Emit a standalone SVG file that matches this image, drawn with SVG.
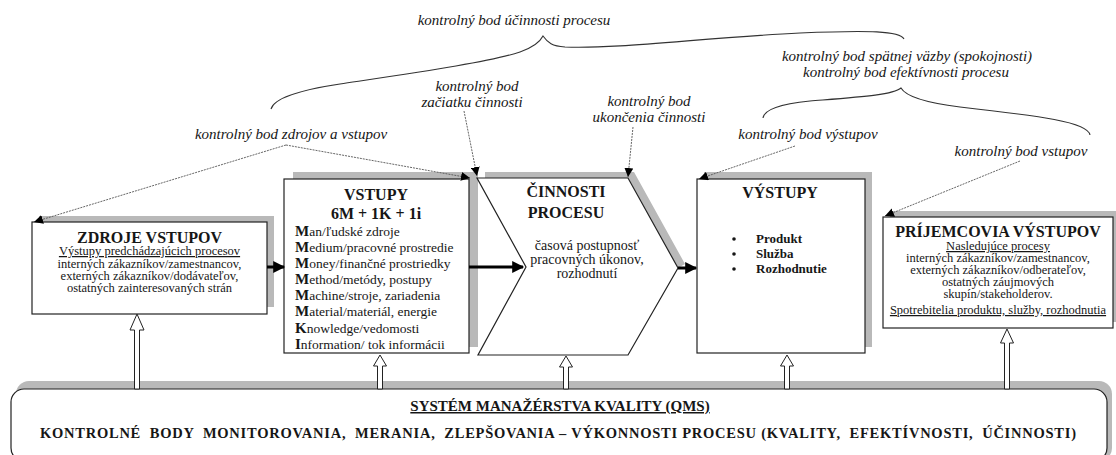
<svg xmlns="http://www.w3.org/2000/svg" width="1116" height="455" viewBox="0 0 1116 455" font-family="'Liberation Serif', 'DejaVu Serif', 'Times New Roman', serif">
  <style>
    text { font-family: "Liberation Serif", "DejaVu Serif", "Times New Roman", serif; fill: #161616; }
    .lbl { font-style: italic; font-size: 15px; }
    .ttl { font-weight: bold; font-size: 16px; }
    .body { font-size: 12.5px; }
    .list { font-size: 13.5px; }
    .ini { font-weight: bold; font-size: 15px; }
    .box { fill: #ffffff; stroke: #222222; stroke-width: 1.2; }
    .shadow { fill: #b9b9b9; stroke: none; }
    .leader { fill: none; stroke: #555555; stroke-width: 0.9; stroke-dasharray: 2 1; }
    .brace { fill: none; stroke: #333333; stroke-width: 1.1; }
    .flow { fill: none; stroke: #000000; stroke-width: 3; }
    .up { fill: #ffffff; stroke: #222222; stroke-width: 1; }
  </style>
  <defs>
    <marker id="tip" viewBox="0 0 10 10" refX="10" refY="5" markerWidth="9" markerHeight="9" markerUnits="userSpaceOnUse" orient="auto">
      <path d="M0,0 L10,5 L0,10 Z" fill="#000000"/>
    </marker>
    <marker id="flowhead" viewBox="0 0 10 10" refX="9" refY="5" markerWidth="5" markerHeight="4" orient="auto">
      <path d="M0,0 L10,5 L0,10 Z" fill="#000000"/>
    </marker>
  </defs>

  <!-- curly braces and italic control-point labels -->
  <g id="labels">
    <path class="brace" d="M271,109 C274,98 300,90 340,84 C420,72 490,62 520,52 C534,47 540,42 543,36 C548,43 552,46 565,47 C620,49 700,38 800,33 C870,30 900,31 904,39"/>
    <path class="brace" d="M763,118 C764,110 780,104 810,101 C860,97 893,95 901,88 C905,95 920,102 960,107 C1040,116 1088,122 1090,135"/>
    <text class="lbl" x="514" y="25" text-anchor="middle">kontrolný bod účinnosti procesu</text>
    <text class="lbl" x="907" y="61" text-anchor="middle">kontrolný bod spätnej väzby (spokojnosti)</text>
    <text class="lbl" x="906" y="77" text-anchor="middle">kontrolný bod efektívnosti procesu</text>
    <text class="lbl" x="477" y="91" text-anchor="middle">kontrolný bod</text>
    <text class="lbl" x="472" y="107" text-anchor="middle">začiatku činnosti</text>
    <text class="lbl" x="649" y="106" text-anchor="middle">kontrolný bod</text>
    <text class="lbl" x="649" y="122" text-anchor="middle">ukončenia činnosti</text>
    <text class="lbl" x="808" y="139" text-anchor="middle">kontrolný bod výstupov</text>
    <text class="lbl" x="1021" y="156" text-anchor="middle">kontrolný bod vstupov</text>
    <text class="lbl" x="291" y="139" text-anchor="middle">kontrolný bod zdrojov a vstupov</text>
  </g>

  <!-- quality management system base -->
  <g id="qms">
    <rect class="shadow" x="16" y="381" width="1096" height="80" rx="13"/>
    <rect class="box" x="11" y="389" width="1096" height="72" rx="13"/>
    <text x="560" y="411" text-anchor="middle" font-weight="bold" font-size="15" text-decoration="underline">SYSTÉM MANAŽÉRSTVA KVALITY (QMS)</text>
    <text x="40" y="438" font-weight="bold" font-size="14.5" textLength="1036" lengthAdjust="spacing" style="white-space:pre">KONTROLNÉ  BODY  MONITOROVANIA,  MERANIA,  ZLEPŠOVANIA – VÝKONNOSTI PROCESU (KVALITY,  EFEKTÍVNOSTI,  ÚČINNOSTI)</text>
  </g>

  <g id="zdroje">
    <rect class="shadow" x="39" y="216" width="235" height="91"/>
    <rect class="box" x="32" y="222" width="235" height="92"/>
    <text class="ttl" x="149.5" y="243" text-anchor="middle">ZDROJE VSTUPOV</text>
    <text class="body" x="149.5" y="255" text-anchor="middle" text-decoration="underline">Výstupy predchádzajúcich  procesov</text>
    <text class="body" x="149.5" y="268" text-anchor="middle">interných zákazníkov/zamestnancov,</text>
    <text class="body" x="149.5" y="280" text-anchor="middle">externých zákazníkov/dodávateľov,</text>
    <text class="body" x="149.5" y="292" text-anchor="middle">ostatných zainteresovaných  strán</text>
  </g>

  <g id="vstupy">
    <rect class="shadow" x="293" y="172" width="185" height="175"/>
    <rect class="box" x="284" y="179" width="185" height="174"/>
    <text class="ttl" x="376" y="200" text-anchor="middle" font-size="17">VSTUPY</text>
    <text class="ttl" x="376" y="219" text-anchor="middle" font-size="17">6M + 1K + 1i</text>
    <g class="list">
      <text x="295" y="236"><tspan class="ini">M</tspan>an/ľudské zdroje</text>
      <text x="295" y="252"><tspan class="ini">M</tspan>edium/pracovné prostredie</text>
      <text x="295" y="268"><tspan class="ini">M</tspan>oney/finančné prostriedky</text>
      <text x="295" y="284"><tspan class="ini">M</tspan>ethod/metódy, postupy</text>
      <text x="295" y="300"><tspan class="ini">M</tspan>achine/stroje, zariadenia</text>
      <text x="295" y="316"><tspan class="ini">M</tspan>aterial/materiál, energie</text>
      <text x="295" y="333"><tspan class="ini">K</tspan>nowledge/vedomosti</text>
      <text x="295" y="349"><tspan class="ini">I</tspan>nformation/ tok informácii</text>
    </g>
  </g>

  <g id="cinnosti">
    <polygon class="shadow" points="485,172 634,172 685,264 678,268 628,178 485,178"/>
    <polygon class="box" points="477,178 628,178 678,268 628,355 478,355 526,267"/>
    <text class="ttl" x="566" y="197" text-anchor="middle">ČINNOSTI</text>
    <text class="ttl" x="566" y="218" text-anchor="middle">PROCESU</text>
    <text x="587" y="250" text-anchor="middle" font-size="14">časová postupnosť</text>
    <text x="587" y="264" text-anchor="middle" font-size="14">pracovných úkonov,</text>
    <text x="587" y="278" text-anchor="middle" font-size="14">rozhodnutí</text>
  </g>

  <g id="vystupy">
    <rect class="shadow" x="704" y="172" width="168" height="175"/>
    <rect class="box" x="697" y="179" width="168" height="174"/>
    <text class="ttl" x="780" y="198" text-anchor="middle" font-size="16.5">VÝSTUPY</text>
    <circle cx="734" cy="239" r="1.8" fill="#161616"/>
    <circle cx="734" cy="254" r="1.8" fill="#161616"/>
    <circle cx="734" cy="269" r="1.8" fill="#161616"/>
    <text x="756" y="243" font-weight="bold" font-size="13">Produkt</text>
    <text x="756" y="258" font-weight="bold" font-size="13">Služba</text>
    <text x="756" y="273" font-weight="bold" font-size="13">Rozhodnutie</text>
  </g>

  <g id="prijemcovia">
    <rect class="shadow" x="890" y="211" width="226" height="111"/>
    <rect class="box" x="883" y="217" width="230" height="111"/>
    <text class="ttl" x="998" y="237" text-anchor="middle">PRÍJEMCOVIA VÝSTUPOV</text>
    <text class="body" x="998" y="250" text-anchor="middle" text-decoration="underline">Nasledujúce procesy</text>
    <text class="body" x="998" y="262" text-anchor="middle">interných zákazníkov/zamestnancov,</text>
    <text class="body" x="998" y="274" text-anchor="middle">externých zákazníkov/odberateľov,</text>
    <text class="body" x="998" y="286" text-anchor="middle">ostatných záujmových</text>
    <text class="body" x="998" y="298" text-anchor="middle">skupín/stakeholderov.</text>
    <text class="body" x="998" y="314" text-anchor="middle" text-decoration="underline">Spotrebitelia produktu, služby, rozhodnutia</text>
  </g>

  <!-- connectors: process flow, QMS feeds and control-point leaders -->
  <g id="connectors">
    <line class="flow" x1="267" y1="267" x2="284" y2="267" marker-end="url(#flowhead)"/>
    <line class="flow" x1="469" y1="267" x2="523" y2="267" marker-end="url(#flowhead)"/>
    <line class="flow" x1="678" y1="268" x2="696" y2="268" marker-end="url(#flowhead)"/>

    <polygon class="up" points="134.5,389 134.5,330 130,330 137,314 144,330 139.5,330 139.5,389"/>
    <polygon class="up" points="377.5,389 377.5,366 373.5,366 380,355 386.5,366 382.5,366 382.5,389"/>
    <polygon class="up" points="563.5,389 563.5,367 559.5,367 566,356 572.5,367 568.5,367 568.5,389"/>
    <polygon class="up" points="784.5,389 784.5,366 780.5,366 787,355 793.5,366 789.5,366 789.5,389"/>
    <polygon class="up" points="1004.5,389 1004.5,343 1000.5,343 1007,329 1013.5,343 1009.5,343 1009.5,389"/>

    <line class="leader" x1="286" y1="145" x2="34" y2="222" marker-end="url(#tip)"/>
    <line class="leader" x1="286" y1="145" x2="470" y2="178" marker-end="url(#tip)"/>
    <line class="leader" x1="464" y1="111" x2="477" y2="176" marker-end="url(#tip)"/>
    <line class="leader" x1="633" y1="127" x2="628" y2="177" marker-end="url(#tip)"/>
    <line class="leader" x1="795" y1="146" x2="699" y2="179" marker-end="url(#tip)"/>
    <line class="leader" x1="1020" y1="161" x2="885" y2="216" marker-end="url(#tip)"/>
  </g>
</svg>
